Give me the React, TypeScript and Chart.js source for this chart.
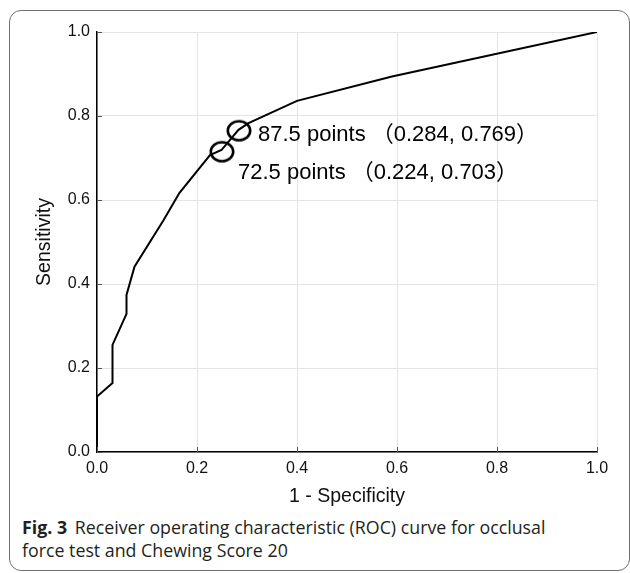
import React, { useEffect, useRef } from "react";
import { Chart, registerables } from "chart.js";

Chart.register(...registerables);

// ROC curve vertices (1 - specificity, sensitivity)
const fprValues = [0, 0, 0.031, 0.031, 0.059, 0.059, 0.075, 0.133, 0.165, 0.226, 0.249, 0.283, 0.303, 0.4, 0.59, 1.0];
const tprValues = [0, 0.132, 0.164, 0.255, 0.329, 0.374, 0.441, 0.552, 0.617, 0.707, 0.719, 0.767, 0.783, 0.836, 0.894, 1.0];

// Highlighted cut-off points
const cutoffFpr = [0.284, 0.25];
const cutoffTpr = [0.765, 0.715];
const cutoffLabels = ["87.5 points （0.284, 0.769）", "72.5 points （0.224, 0.703）"];

const axisTicks = [0, 0.2, 0.4, 0.6, 0.8, 1.0];
const xTitle = "1 - Specificity";
const yTitle = "Sensitivity";
const captionBold = "Fig. 3";
const captionLine1 = "Receiver operating characteristic (ROC) curve for occlusal";
const captionLine2 = "force test and Chewing Score 20";

const FONT = '"Liberation Sans", Arial, "Noto Sans CJK JP", sans-serif';

const annotationPlugin = {
  id: "cutoffAnnotations",
  afterDatasetsDraw(chart: any) {
    const { ctx, scales } = chart;
    const xs = scales.x;
    const ys = scales.y;
    const offsets = [
      [19, 4],
      [16, 21],
    ];
    ctx.save();
    ctx.font = `22px ${FONT}`;
    ctx.fillStyle = "#000";
    ctx.textBaseline = "middle";
    ctx.textAlign = "left";
    cutoffLabels.forEach((t, i) => {
      const px = xs.getPixelForValue(cutoffFpr[i]);
      const py = ys.getPixelForValue(cutoffTpr[i]);
      ctx.fillText(t, px + offsets[i][0], py + offsets[i][1]);
    });
    ctx.restore();
  },
};

const innerTickPlugin = {
  id: "innerTicks",
  afterDraw(chart: any) {
    const { ctx, chartArea, scales } = chart;
    const xs = scales.x;
    const ys = scales.y;
    ctx.save();
    ctx.strokeStyle = "#555";
    ctx.lineWidth = 1;
    ctx.beginPath();
    xs.ticks.forEach((t: any) => {
      const px = Math.round(xs.getPixelForValue(t.value)) + 0.5;
      ctx.moveTo(px, chartArea.bottom);
      ctx.lineTo(px, chartArea.bottom - 5);
    });
    ys.ticks.forEach((t: any) => {
      const py = Math.round(ys.getPixelForValue(t.value)) + 0.5;
      ctx.moveTo(chartArea.left, py);
      ctx.lineTo(chartArea.left + 5, py);
    });
    ctx.stroke();
    ctx.restore();
  },
};

function makeEllipse(): HTMLCanvasElement {
  const c = document.createElement("canvas");
  c.width = 30;
  c.height = 26;
  const g = c.getContext("2d")!;
  g.strokeStyle = "#000";
  g.lineWidth = 2.6;
  g.beginPath();
  g.ellipse(15, 13, 11.2, 9.5, 0, 0, Math.PI * 2);
  g.stroke();
  return c;
}

function RocChart() {
  const ref = useRef<HTMLCanvasElement | null>(null);
  useEffect(() => {
    if (!ref.current) return;
    const ellipse = makeEllipse();
    const curve = fprValues.map((x, i) => ({ x, y: tprValues[i] }));
    const cuts = cutoffFpr.map((x, i) => ({ x, y: cutoffTpr[i] }));
    const chart = new Chart(ref.current, {
      type: "scatter",
      data: {
        datasets: [
          {
            data: curve,
            showLine: true,
            borderColor: "#000",
            borderWidth: 2,
            pointRadius: 0,
            tension: 0,
          },
          {
            data: cuts,
            showLine: false,
            pointStyle: ellipse as any,
            pointRadius: 12,
          },
        ],
      },
      options: {
        animation: false,
        responsive: true,
        maintainAspectRatio: false,
        layout: { padding: { left: 33, top: 32, right: 33, bottom: 0 } },
        plugins: { legend: { display: false }, tooltip: { enabled: false } },
        scales: {
          x: {
            type: "linear",
            min: 0,
            max: 1,
            afterFit: (s: any) => {
              s.height = 56;
            },
            afterBuildTicks: (s: any) => {
              s.ticks = axisTicks.map((v) => ({ value: v }));
            },
            ticks: {
              callback: (v: any) => Number(v).toFixed(1),
              font: { family: FONT, size: 16 },
              color: "#111",
              padding: 7,
              maxRotation: 0,
            },
            grid: { color: "#e4e4e4", lineWidth: 1, drawTicks: false },
            border: { color: "#000", width: 1.5 },
            title: { display: true, text: xTitle, font: { family: FONT, size: 19.5 }, color: "#111", padding: 0 },
          },
          y: {
            type: "linear",
            min: 0,
            max: 1,
            afterFit: (s: any) => {
              s.width = 64;
            },
            afterBuildTicks: (s: any) => {
              s.ticks = axisTicks.map((v) => ({ value: v }));
            },
            ticks: {
              callback: (v: any) => Number(v).toFixed(1),
              font: { family: FONT, size: 16 },
              color: "#111",
              padding: 7,
            },
            grid: { color: "#e4e4e4", lineWidth: 1, drawTicks: false },
            border: { color: "#000", width: 1.5 },
            title: { display: true, text: yTitle, font: { family: FONT, size: 19.5 }, color: "#111", padding: 0 },
          },
        },
      },
      plugins: [annotationPlugin, innerTickPlugin],
    });
    return () => chart.destroy();
  }, []);
  return (
    <div style={{ position: "absolute", left: 0, top: 0, width: 630, height: 508 }}>
      <canvas ref={ref} />
    </div>
  );
}

export default function App() {
  return (
    <div style={{ position: "absolute", left: 0, top: 0, width: 630, height: 573, background: "#fff", overflow: "hidden" }}>
      <div
        style={{
          position: "absolute",
          left: 9,
          top: 10,
          width: 621,
          height: 561,
          border: "1.5px solid #6f6f6f",
          borderRadius: 12,
          boxSizing: "border-box",
        }}
      />
      <RocChart />
      <div
        style={{
          position: "absolute",
          left: 22,
          top: 516,
          width: 605,
          fontFamily: '"Open Sans", "Noto Sans", sans-serif',
          fontSize: 17.8,
          lineHeight: "23px",
          color: "#231f20",
          whiteSpace: "nowrap",
        }}
      >
        <b style={{ marginRight: 3 }}>{captionBold}</b> {captionLine1}
        <br />
        {captionLine2}
      </div>
    </div>
  );
}
